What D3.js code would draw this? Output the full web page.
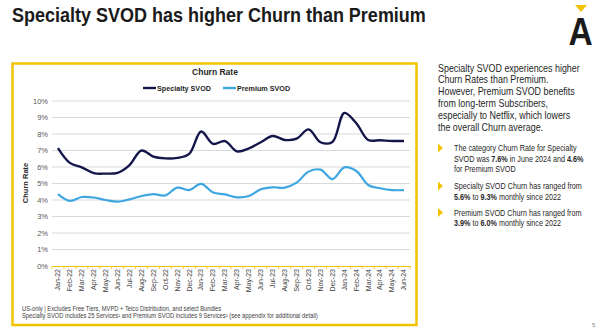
<!DOCTYPE html>
<html>
<head>
<meta charset="utf-8">
<script src="https://cdn.jsdelivr.net/npm/d3@7"></script>
<style>
  body { margin: 0; background: #fff; }
  svg { display: block; font-family: "Liberation Sans", Arial, sans-serif; }
</style>
</head>
<body>
<svg id="chart" width="600" height="333"></svg>
<script>
const months = ["Jan-22","Feb-22","Mar-22","Apr-22","May-22","Jun-22","Jul-22","Aug-22","Sep-22","Oct-22","Nov-22","Dec-22",
  "Jan-23","Feb-23","Mar-23","Apr-23","May-23","Jun-23","Jul-23","Aug-23","Sep-23","Oct-23","Nov-23","Dec-23",
  "Jan-24","Feb-24","Mar-24","Apr-24","May-24","Jun-24"];

// churn rate, %
const specialty = [7.15, 6.25, 5.98, 5.63, 5.6, 5.65, 6.12, 7.0, 6.63, 6.52, 6.55, 6.8,
  8.15, 7.4, 7.57, 6.95, 7.13, 7.5, 7.88, 7.64, 7.72, 8.28, 7.5, 7.52,
  9.28, 8.65, 7.64, 7.62, 7.58, 7.58];
const premium = [4.36, 3.95, 4.18, 4.15, 4.0, 3.9, 4.04, 4.24, 4.36, 4.28, 4.75, 4.6,
  4.98, 4.45, 4.34, 4.16, 4.24, 4.65, 4.77, 4.75, 5.05, 5.72, 5.84, 5.27,
  5.98, 5.76, 4.91, 4.71, 4.6, 4.6];
const yTicks = [0, 1, 2, 3, 4, 5, 6, 7, 8, 9, 10];

const seriesNames = ["Specialty SVOD", "Premium SVOD"];
const seriesColors = ["#14164a", "#3ea6e0"];

const svg = d3.select("#chart");
const yellow = "#f2c300";
const textDark = "#262626";

// the source deck uses a condensed face; squeeze the text horizontally instead
function squeezed(parent, x, y, sx) {
  return parent.append("text")
    .attr("transform", `translate(${x},${y}) scale(${sx},1)`);
}

// page title
squeezed(svg, 12, 22, 0.9)
  .attr("font-size", 20).attr("font-weight", "bold")
  .attr("fill", "#1a1a1a")
  .text("Specialty SVOD has higher Churn than Premium");

// logo
svg.append("path")
  .attr("d", "M575,5 L587,5 L581,12 Z")
  .attr("fill", yellow);
squeezed(svg, 580.5, 45, 0.88)
  .attr("text-anchor", "middle")
  .attr("font-size", 38).attr("font-weight", "bold")
  .attr("fill", "#1a1a1a")
  .text("A");

// chart frame
svg.append("rect")
  .attr("x", 12.5).attr("y", 63.5)
  .attr("width", 404).attr("height", 261.5)
  .attr("fill", "none")
  .attr("stroke", yellow).attr("stroke-width", 2.5);

const x = d3.scaleBand().domain(months).range([52, 410]);
const y = d3.scaleLinear().domain([0, 10]).range([266, 101]);

// gridlines
svg.append("g")
  .selectAll("line")
  .data(yTicks.slice(1))
  .join("line")
  .attr("x1", 52).attr("x2", 410)
  .attr("y1", d => y(d)).attr("y2", d => y(d))
  .attr("stroke", "#d9d9d9").attr("stroke-width", 1);

// y axis labels
const yAxis = svg.append("g")
  .attr("transform", "translate(48,0)")
  .call(d3.axisLeft(y).tickValues(yTicks).tickFormat(d => d + "%").tickSize(0).tickPadding(0));
yAxis.select(".domain").remove();
yAxis.selectAll("text")
  .attr("font-size", 7.5).attr("fill", "#595959")
  .attr("font-family", "Liberation Sans, Arial, sans-serif");

svg.append("text")
  .attr("transform", "translate(28,183) rotate(-90)")
  .attr("text-anchor", "middle")
  .attr("font-size", 7.5).attr("font-weight", "bold")
  .attr("fill", textDark)
  .text("Churn Rate");

// x axis
const xAxis = svg.append("g")
  .attr("transform", "translate(0,266)")
  .call(d3.axisBottom(x).tickSize(0).tickPadding(0));
xAxis.select(".domain").attr("stroke", yellow).attr("stroke-width", 1);
xAxis.selectAll("text")
  .attr("font-size", 7).attr("fill", "#404040")
  .attr("font-family", "Liberation Sans, Arial, sans-serif")
  .attr("transform", "rotate(-90)")
  .attr("text-anchor", "end")
  .attr("dy", "0.33em")
  .attr("y", 0).attr("x", -3);
// category separators
xAxis.append("g")
  .selectAll("line")
  .data(months.concat(["end"]))
  .join("line")
  .attr("x1", (d, i) => x.range()[0] + i * x.step())
  .attr("x2", (d, i) => x.range()[0] + i * x.step())
  .attr("y1", 0).attr("y2", 3)
  .attr("stroke", yellow).attr("stroke-width", 0.8);

// lines
const line = d3.line()
  .x((d, i) => x(months[i]) + x.bandwidth() / 2)
  .y(d => y(d))
  .curve(d3.curveCatmullRom.alpha(0.5));

svg.append("path")
  .datum(premium)
  .attr("d", line)
  .attr("fill", "none")
  .attr("stroke", seriesColors[1]).attr("stroke-width", 2.2);
svg.append("path")
  .datum(specialty)
  .attr("d", line)
  .attr("fill", "none")
  .attr("stroke", seriesColors[0]).attr("stroke-width", 2.4);

// chart title + legend
svg.append("text")
  .attr("x", 215).attr("y", 75)
  .attr("text-anchor", "middle")
  .attr("font-size", 8.5).attr("font-weight", "bold")
  .attr("fill", textDark)
  .text("Churn Rate");

const legendX = [143, 223];
seriesNames.forEach((name, i) => {
  svg.append("line")
    .attr("x1", legendX[i]).attr("x2", legendX[i] + 13)
    .attr("y1", 88).attr("y2", 88)
    .attr("stroke", seriesColors[i]).attr("stroke-width", 2.4);
  svg.append("text")
    .attr("x", legendX[i] + 14).attr("y", 90.5)
    .attr("font-size", 7.2).attr("font-weight", "bold")
    .attr("fill", textDark)
    .text(name);
});

// footnotes
const notes = [
  "US-only | Excludes Free Tiers, MVPD + Telco Distribution, and select Bundles",
  "Specialty SVOD includes 25 Services\u00b9 and Premium SVOD includes 9 Services\u00b2 (see appendix for additional detail)"
];
notes.forEach((d, i) => {
  squeezed(svg, 22, 310.5 + i * 7.5, 0.92)
    .attr("font-size", 6.3).attr("fill", "#404040")
    .text(d);
});

// side commentary
const paragraph = [
  "Specialty SVOD experiences higher",
  "Churn Rates than Premium.",
  "However, Premium SVOD benefits",
  "from long-term Subscribers,",
  "especially to Netflix, which lowers",
  "the overall Churn average."
];
paragraph.forEach((d, i) => {
  squeezed(svg, 438, 71.5 + i * 11.8, 0.85)
    .attr("font-size", 10.5).attr("fill", textDark)
    .text(d);
});

// bullets: each line is a list of [text, bold] parts
const bullets = [
  { y: 151, lines: [
    [["The category Churn Rate for Specialty", false]],
    [["SVOD was ", false], ["7.6%", true], [" in June 2024 and ", false], ["4.6%", true]],
    [["for Premium SVOD", false]]
  ]},
  { y: 189, lines: [
    [["Specialty SVOD Churn has ranged from", false]],
    [["5.6%", true], [" to ", false], ["9.3%", true], [" monthly since 2022", false]]
  ]},
  { y: 215.5, lines: [
    [["Premium SVOD Churn has ranged from", false]],
    [["3.9%", true], [" to ", false], ["6.0%", true], [" monthly since 2022", false]]
  ]}
];
bullets.forEach(b => {
  svg.append("path")
    .attr("d", `M438,${b.y - 7.5} L443,${b.y - 3} L438,${b.y + 1.5} Z`)
    .attr("fill", yellow);
  b.lines.forEach((parts, li) => {
    const t = squeezed(svg, 454, b.y + li * 10.5, 0.87)
      .attr("font-size", 8.3).attr("fill", textDark);
    parts.forEach(p => {
      t.append("tspan")
        .attr("font-weight", p[1] ? "bold" : "normal")
        .text(p[0]);
    });
  });
});

// page number
svg.append("text")
  .attr("x", 592).attr("y", 327)
  .attr("font-size", 6).attr("fill", "#7f7f7f")
  .text("5");
</script>
</body>
</html>
